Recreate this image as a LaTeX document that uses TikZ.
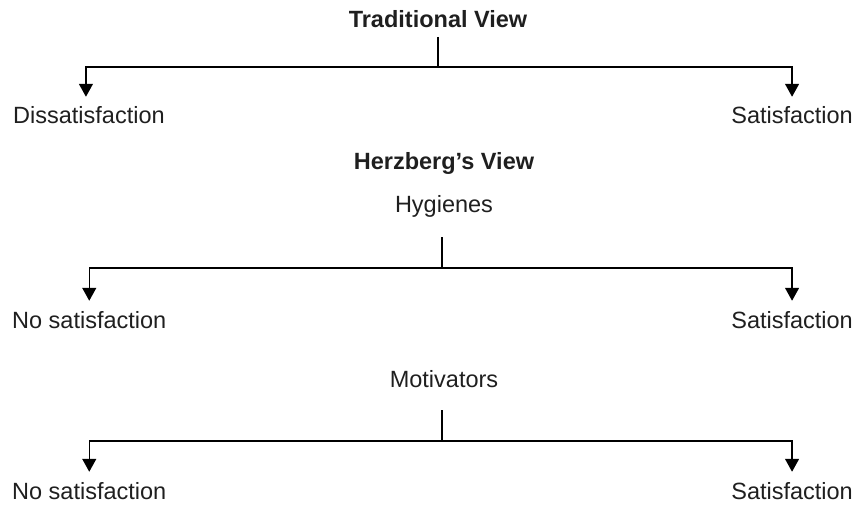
\documentclass[tikz,border=0pt]{standalone}
\usepackage{fontspec}
\setmainfont{Liberation Sans}
\usetikzlibrary{arrows.meta}
\begin{document}
\begin{tikzpicture}[x=1pt,y=-1pt,
	lbl/.style={inner xsep=0pt,inner ysep=10pt,font=\fontsize{23.5}{28}\selectfont,text=black!88},
	head/.style={inner sep=0pt,font=\fontsize{23.5}{28}\selectfont,text=black!88},
	ln/.style={line width=1.3pt},
	arr/.style={line width=1.3pt,-{Triangle[width=14pt,length=13pt]}}]
			\useasboundingbox (0,0) rectangle (859,505);
			
			\node[head,font=\fontsize{23.5}{28}\selectfont\bfseries,anchor=base] (TV) at (438,28){Traditional View};
			\coordinate (T0) at (438,37);
			\coordinate (T1) at (438,67);
			\node[lbl,anchor=base west] (D1) at (13,124){Dissatisfaction};
			\node[lbl,anchor=base east] (S1) at (853,124){Satisfaction};
			\draw[ln] (T0)--(T1);
			\draw[arr] (T1) -| ([xshift=-3pt]D1.north);
			\draw[arr] (T1) -| (S1.north);
			
			\node[head,font=\fontsize{23.5}{28}\selectfont\bfseries,anchor=base] (HV) at (444,170){Herzberg’s View};
			\node[head,anchor=base] (HY) at (444,213){Hygienes};
			\coordinate (H0) at (442,237);
			\coordinate (H1) at (442,268);
			\node[lbl,anchor=base west] (N2) at (12,328){No satisfaction};
			\node[lbl,anchor=base east] (S2) at (853,328){Satisfaction};
			\draw[ln] (H0)--(H1);
			\draw[arr] (H1) -| (N2.north);
			\draw[arr] (H1) -| (S2.north);
			
			\node[head,anchor=base] (MO) at (444,387){Motivators};
			\coordinate (M0) at (442,410);
			\coordinate (M1) at (442,441);
			\node[lbl,anchor=base west] (N3) at (12,499){No satisfaction};
			\node[lbl,anchor=base east] (S3) at (853,499){Satisfaction};
			\draw[ln] (M0)--(M1);
			\draw[arr] (M1) -| (N3.north);
			\draw[arr] (M1) -| (S3.north);
		\end{tikzpicture}
\end{document}
